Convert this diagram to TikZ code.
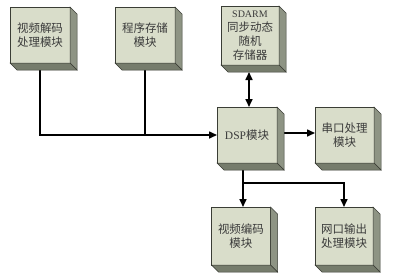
\documentclass[tikz,border=0pt]{standalone}
\usepackage{fontspec}
\setmainfont{Liberation Serif}
\newfontfamily\cjk{Noto Sans CJK SC}
\usetikzlibrary{calc,arrows.meta}
\definecolor{frontc}{HTML}{D9DDCA}
\definecolor{sidec}{HTML}{8E9484}
\definecolor{botc}{HTML}{767C6C}
\definecolor{edgec}{HTML}{3A3D35}
\definecolor{txtc}{HTML}{3A3A3A}
\newcommand{\extrudebox}[1]{%
  \filldraw[fill=sidec,draw=edgec,line width=0.5pt] (#1.north east) -- ++(7,7) -- ($(#1.south east)+(7,7)$) -- (#1.south east) -- cycle;
  \filldraw[fill=botc,draw=edgec,line width=0.5pt] (#1.south west) -- ++(7,7) -- ($(#1.south east)+(7,7)$) -- (#1.south east) -- cycle;
}
\tikzset{
  modbox/.style={draw=edgec,fill=frontc,line width=0.6pt,outer sep=0pt,inner sep=1pt,
    align=center,font=\cjk\fontsize{11.5}{14}\selectfont,text=txtc},
  conn/.style={line width=1.6pt,black},
  arr/.style={conn,-{Triangle[length=8pt,width=7pt]}},
  darr/.style={conn,{Triangle[length=8pt,width=7pt]}-{Triangle[length=8pt,width=7pt]}},
}
\begin{document}
\begin{tikzpicture}[x=1pt,y=-1pt]
\useasboundingbox (0,0) rectangle (400,277);
\node[modbox,minimum width=60pt,minimum height=56pt] (v1) at (40,35) {视频解码\\处理模块};
\node[modbox,minimum width=60pt,minimum height=56pt] (p) at (145,35) {程序存储\\模块};
\node[modbox,minimum width=58pt,minimum height=59pt] (sd) at (250,35.5) {{\rmfamily\fontsize{10}{14}\selectfont SDARM}\\同步动态\\随机\\存储器};
\node[modbox,minimum width=60pt,minimum height=56pt] (dsp) at (247,135) {{\rmfamily DSP}模块};
\node[modbox,minimum width=59pt,minimum height=56pt] (uart) at (344.5,135) {串口处理\\模块};
\node[modbox,minimum width=59pt,minimum height=58pt] (venc) at (241,236) {视频编码\\模块};
\node[modbox,minimum width=58pt,minimum height=58pt] (net) at (344,236) {网口输出\\处理模块};
% connectors
\draw[arr] (v1.south) |- (dsp.west);
\draw[conn] (p.south) -- (p.south |- dsp.west);
\coordinate (sda) at ($(sd.south)+(-1,7)$);
\coordinate (sdb) at (sda |- dsp.north);
\draw[darr] (sda) -- (sdb);
\coordinate (ua) at ($(dsp.east)+(7,-2)$);
\coordinate (ub) at ($(uart.west)+(0,-2)$);
\draw[arr] (ua) -- (ub);
\coordinate (da) at ($(dsp.south)+(-4,7)$);
\coordinate (jb) at (243,183);
\draw[conn] (da) -- (jb);
\draw[arr] (jb) -- (jb |- venc.north);
\draw[arr] (jb) -| (net.north);
% 3D sides
\extrudebox{v1}
\extrudebox{p}
\extrudebox{sd}
\extrudebox{dsp}
\extrudebox{uart}
\extrudebox{venc}
\extrudebox{net}
\end{tikzpicture}
\end{document}
